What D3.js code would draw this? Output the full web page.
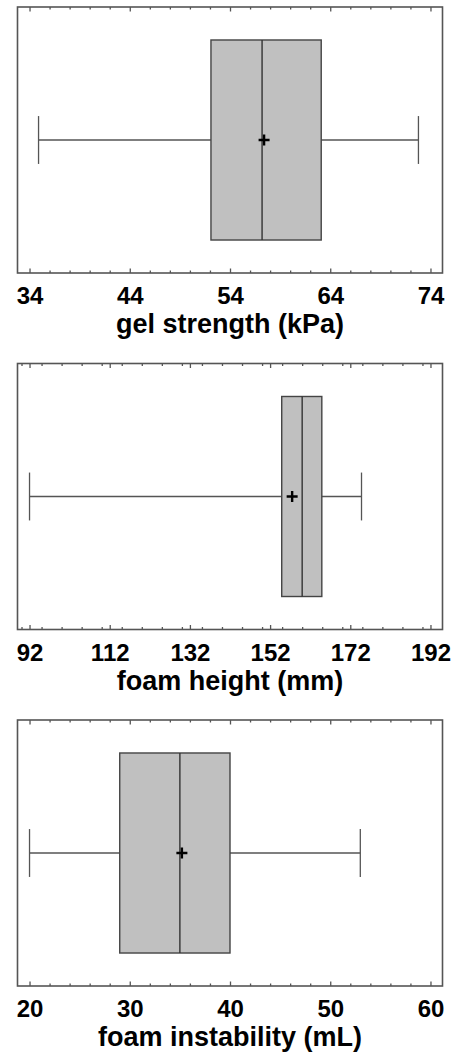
<!DOCTYPE html>
<html>
<head>
<meta charset="utf-8">
<script src="https://cdn.jsdelivr.net/npm/d3@7"></script>
<style>
  body { margin: 0; background: #fff; }
  svg { display: block; }
</style>
</head>
<body>
<script>
// box plot summaries, one entry per variable
const labels = ['gel strength (kPa)', 'foam height (mm)', 'foam instability (mL)'];
const mins = [34.9, 92.0, 20.0];
const q1s = [52.1, 154.9, 29.0];
const medians = [57.2, 160.0, 35.0];
const means = [57.4, 157.5, 35.2];
const q3s = [63.1, 164.9, 40.0];
const maxs = [72.8, 174.8, 53.0];

// axis settings
const domains = [[32.8, 75.2], [89, 195], [18.8, 61.2]];
const majorTicks = [
  [34, 44, 54, 64, 74],
  [92, 112, 132, 152, 172, 192],
  [20, 30, 40, 50, 60]
];
const minorSteps = [2, 5, 2];

const width = 454, height = 1058;
const margin = { left: 17.5, right: 11.5 };
const panelTop = [7, 363.5, 720];
const panelH = 266;

const svg = d3.select('body').append('svg')
  .attr('width', width)
  .attr('height', height)
  .style('font-family', '"Liberation Sans", Arial, sans-serif');

labels.forEach((label, i) => {
  const g = svg.append('g').attr('transform', `translate(0,${panelTop[i]})`);

  const x = d3.scaleLinear()
    .domain(domains[i])
    .range([margin.left, width - margin.right]);
  const y = d3.scaleLinear().domain([0, 1]).range([0, panelH]);

  const [d0, d1] = domains[i];
  const minor = d3.range(Math.ceil(d0 / minorSteps[i]) * minorSteps[i], d1, minorSteps[i])
    .filter(v => !majorTicks[i].includes(v));

  // minor + major ticks on top and bottom, pointing inward
  const addAxis = (axisFn, ty, values, size) => {
    const a = g.append('g')
      .attr('transform', `translate(0,${ty})`)
      .call(axisFn(x).tickValues(values).tickSize(size).tickFormat(''));
    a.select('.domain').remove();
    a.selectAll('line').attr('stroke', '#555').attr('stroke-width', 1.3);
    return a;
  };
  addAxis(d3.axisBottom, panelH, minor, -2.5);
  addAxis(d3.axisTop, 0, minor, -2.5);
  addAxis(d3.axisTop, 0, majorTicks[i], -4.5);
  const bottom = addAxis(d3.axisBottom, panelH, majorTicks[i], -4.5);

  bottom.selectAll('.tick').append('text')
    .attr('y', 31)
    .attr('fill', '#000')
    .attr('text-anchor', 'middle')
    .style('font-size', '24px')
    .style('font-weight', 'bold')
    .text(d => d);

  // frame
  g.append('rect')
    .attr('x', x.range()[0])
    .attr('y', 0)
    .attr('width', x.range()[1] - x.range()[0])
    .attr('height', panelH)
    .attr('fill', 'none')
    .attr('stroke', '#555')
    .attr('stroke-width', 1.6);

  const cy = y(0.5);
  const capH = y(0.09);

  // whiskers
  g.append('line')
    .attr('x1', x(mins[i])).attr('x2', x(maxs[i]))
    .attr('y1', cy).attr('y2', cy)
    .attr('stroke', '#555').attr('stroke-width', 1.3);
  [mins[i], maxs[i]].forEach(v => {
    g.append('line')
      .attr('x1', x(v)).attr('x2', x(v))
      .attr('y1', cy - capH).attr('y2', cy + capH)
      .attr('stroke', '#555').attr('stroke-width', 1.3);
  });

  // box
  g.append('rect')
    .attr('x', x(q1s[i]))
    .attr('y', y(0.124))
    .attr('width', x(q3s[i]) - x(q1s[i]))
    .attr('height', y(0.876) - y(0.124))
    .attr('fill', '#c0c0c0')
    .attr('stroke', '#444')
    .attr('stroke-width', 1.4);

  // median
  g.append('line')
    .attr('x1', x(medians[i])).attr('x2', x(medians[i]))
    .attr('y1', y(0.124)).attr('y2', y(0.876))
    .attr('stroke', '#333').attr('stroke-width', 1.4);

  // mean marker
  const mx = x(means[i]);
  g.append('path')
    .attr('d', `M${mx - 5.5},${cy}H${mx + 5.5}M${mx},${cy - 5.5}V${cy + 5.5}`)
    .attr('stroke', '#000')
    .attr('stroke-width', 2.4);

  // axis title
  g.append('text')
    .attr('x', (x.range()[0] + x.range()[1]) / 2)
    .attr('y', panelH + 60)
    .attr('text-anchor', 'middle')
    .style('font-size', '27px')
    .style('font-weight', 'bold')
    .text(label);
});
</script>
</body>
</html>
